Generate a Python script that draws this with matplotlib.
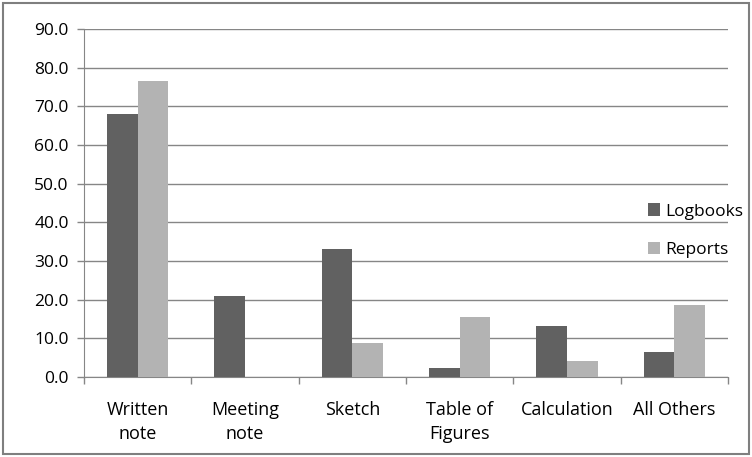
import numpy as np
import matplotlib.pyplot as plt
from matplotlib.patches import Rectangle

plt.rcParams['font.family'] = ['Open Sans', 'DejaVu Sans']

categories = ['Written\nnote', 'Meeting\nnote', 'Sketch', 'Table of\nFigures', 'Calculation', 'All Others']
logbooks = [68.0, 21.0, 33.1, 2.4, 13.2, 6.5]
reports = [76.5, 0.0, 8.8, 15.5, 4.1, 18.6]

dark = '#616161'
light = '#b3b3b3'
axis_col = '#868686'

fig = plt.figure(figsize=(7.52, 4.57), dpi=100)
ax = fig.add_axes([84 / 752, 1 - 377 / 457, 644 / 752, 348 / 457])

x = np.arange(len(categories))
w = 0.285
ax.bar(x - w / 2, logbooks, w, color=dark, label='Logbooks', zorder=3)
ax.bar(x + w / 2, reports, w, color=light, label='Reports', zorder=3)

ax.set_xlim(-0.5, len(categories) - 0.5)
ax.set_ylim(0, 90)
ax.set_yticks(np.arange(0, 91, 10))
ax.set_yticklabels([f'{v:.1f}' for v in np.arange(0, 91, 10)], fontsize=12.5)
ax.yaxis.grid(True, color=axis_col, linewidth=1, zorder=0)

# category labels centred, tick marks on the boundaries
ax.set_xticks(x)
ax.set_xticklabels(categories, fontsize=13, linespacing=1.45)
ax.tick_params(axis='x', length=0, pad=17)
ax.set_xticks(np.arange(-0.5, len(categories)), minor=True)
ax.tick_params(axis='x', which='minor', length=5, color=axis_col, width=1)
ax.tick_params(axis='y', length=5, color=axis_col, width=1, pad=6)

for s in ['top', 'right']:
    ax.spines[s].set_visible(False)
ax.spines['left'].set_color(axis_col)
ax.spines['bottom'].set_color(axis_col)

leg = ax.legend(loc='center left', bbox_to_anchor=(0.852, 0.42), frameon=False,
                fontsize=12.5, handlelength=0.7, handleheight=0.7, handletextpad=0.3,
                labelspacing=1.3)

fig.patches.append(Rectangle((0.004, 0.006), 0.992, 0.988, transform=fig.transFigure,
                             fill=False, edgecolor='#7f7f7f', linewidth=1.5))

fig.savefig('out.png', dpi=100)
